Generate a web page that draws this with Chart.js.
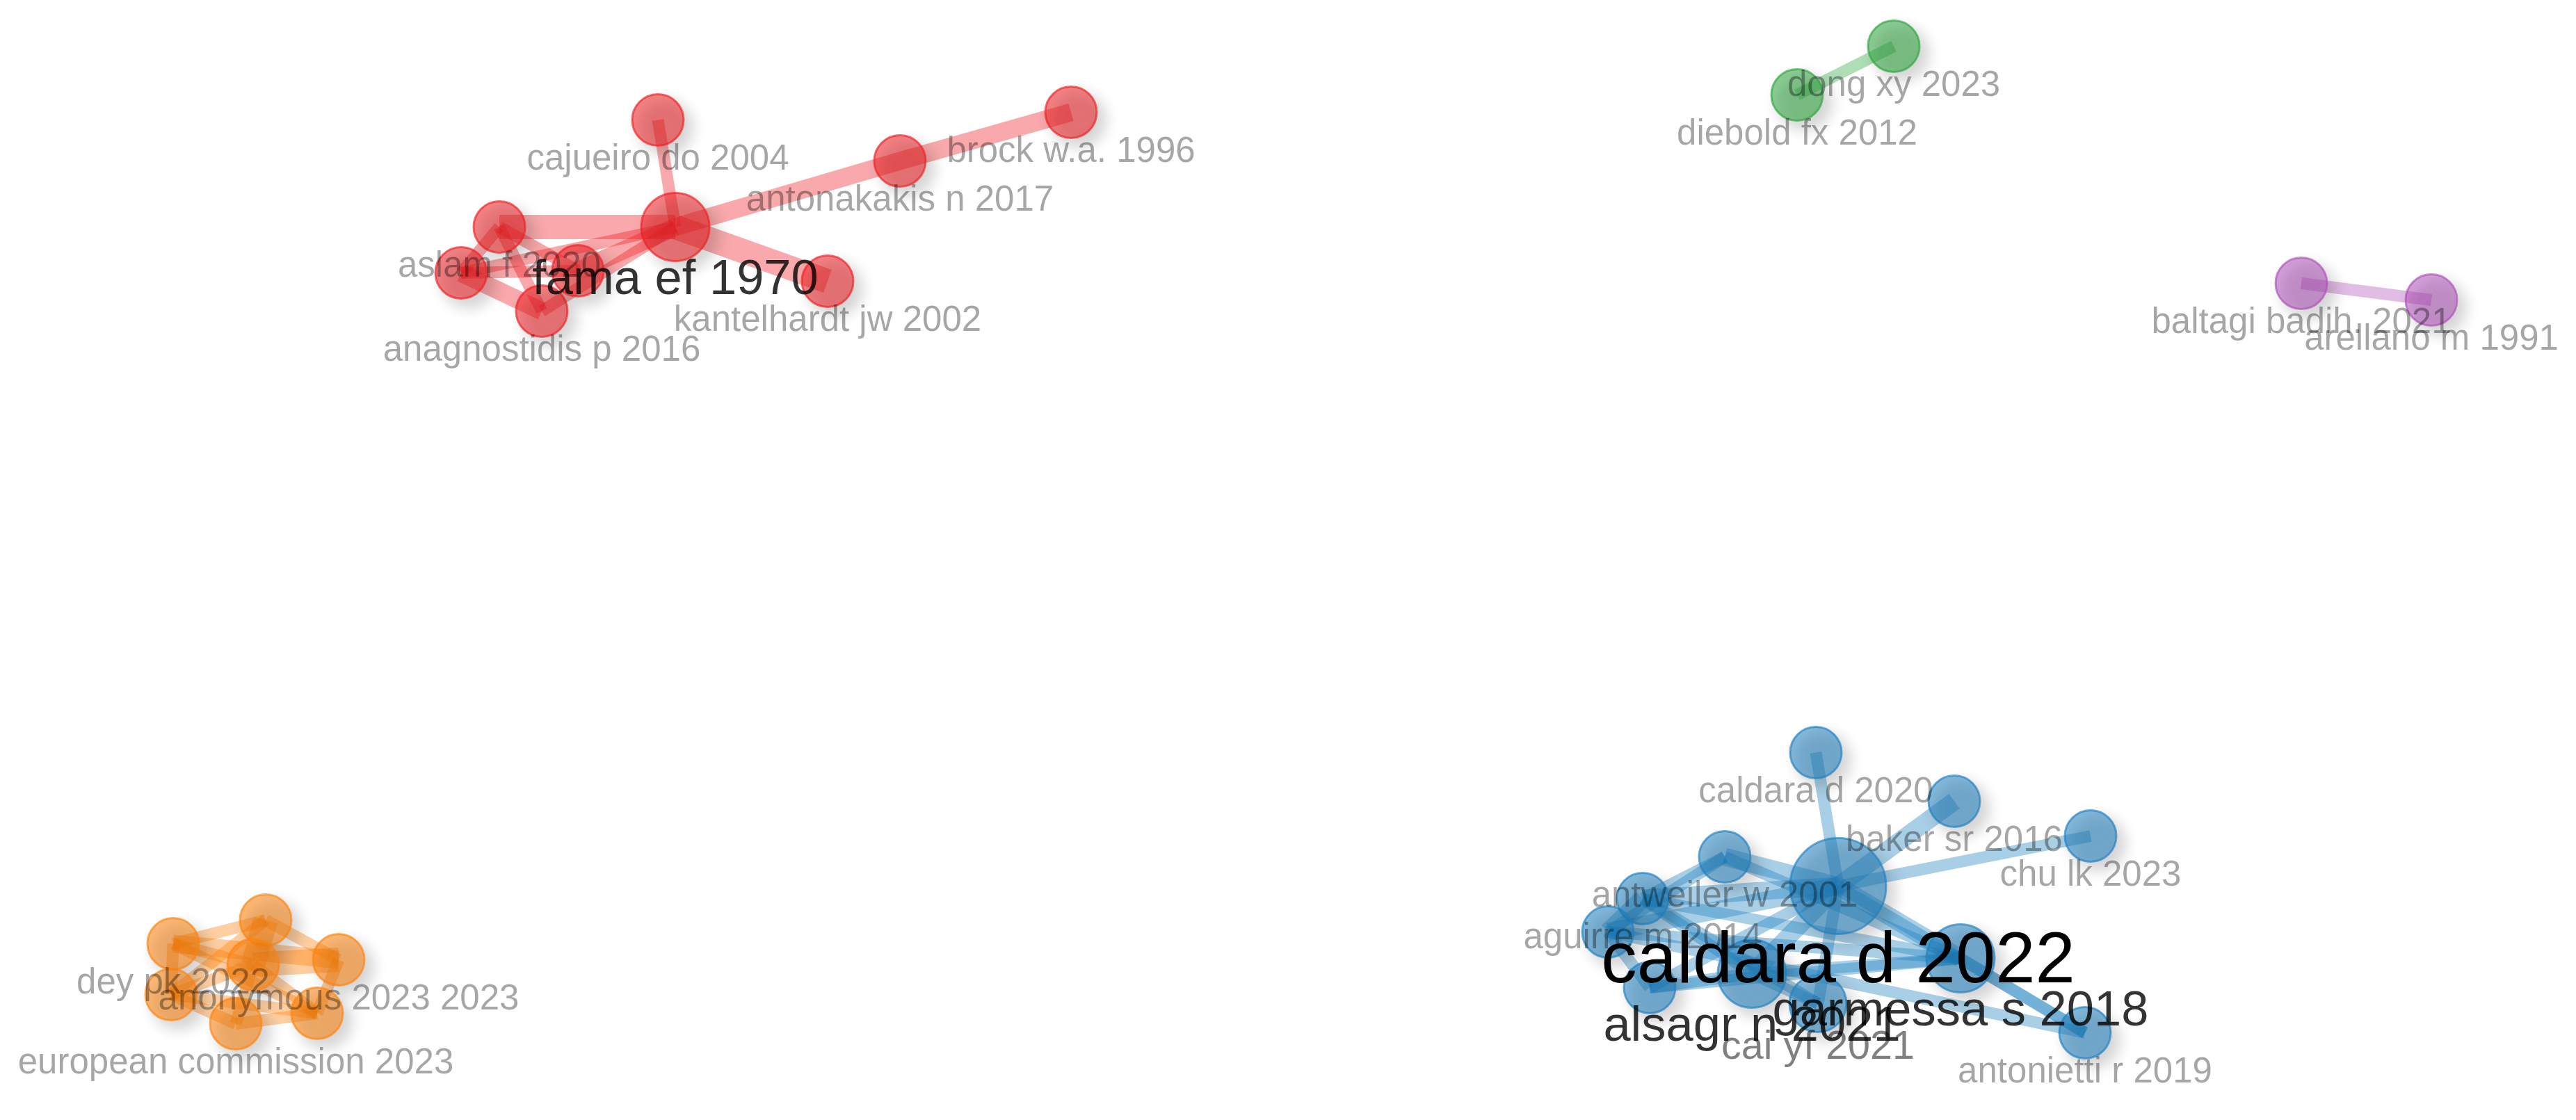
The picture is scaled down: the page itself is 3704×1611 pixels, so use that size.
<!DOCTYPE html>
<html>
<head>
<meta charset="utf-8">
<title>Co-citation network</title>
<script src="https://cdn.jsdelivr.net/npm/chart.js@4.4.1/dist/chart.umd.min.js"></script>
<style>
  html, body { margin: 0; padding: 0; background: #fff; }
  #wrap { width: 3704px; height: 1611px; position: relative; }
</style>
</head>
<body>
<div id="wrap"><canvas id="c-network"></canvas></div>
<script>
// node table (map coordinates)
const nodeLabels = [
  'fama ef 1970', 'cajueiro do 2004', 'antonakakis n 2017', 'brock w.a. 1996', 'kantelhardt jw 2002',
  'aslam f 2020', '', 'anagnostidis p 2016', '',
  'dong xy 2023', 'diebold fx 2012',
  'baltagi badih. 2021', 'arellano m 1991',
  'dey pk 2022', '', 'anonymous 2023 2023', '', '', '', 'european commission 2023',
  'caldara d 2022', 'caldara d 2020', 'baker sr 2016', 'chu lk 2023', 'antweiler w 2001',
  'aguirre m 2014', '', '', 'alsagr n 2021', 'garmessa s 2018', 'cai yf 2021', 'antonietti r 2019'
];
const nodeX = [
  -0.881, -0.906, -0.558, -0.312, -0.662, -1.134, -1.189, -1.073, -1.021,
  0.871, 0.732,
  1.457, 1.644,
  -1.603, -1.470, -1.365, -1.488, -1.606, -1.396, -1.513,
  0.791, 0.759, 0.958, 1.154, 0.628, 0.510, 0.460, 0.520, 0.667, 0.967, 0.762, 1.146
];
const nodeY = [
  0.479, 0.633, 0.574, 0.644, 0.401, 0.479, 0.413, 0.358, 0.416,
  0.739, 0.669,
  0.398, 0.374,
  -0.552, -0.518, -0.575, -0.582, -0.625, -0.652, -0.667,
  -0.469, -0.277, -0.347, -0.397, -0.427, -0.487, -0.535, -0.615, -0.595, -0.573, -0.638, -0.680
];
const nodeWeight = [
  5, 2, 2, 2, 2, 2, 2, 2, 2,
  2, 2,
  2, 2,
  2, 2, 2, 2, 2, 2, 2,
  10, 2, 2, 2, 2, 2, 2, 2, 5, 5, 3, 2
];
const nodeCluster = [
  0, 0, 0, 0, 0, 0, 0, 0, 0,
  1, 1,
  2, 2,
  3, 3, 3, 3, 3, 3, 3,
  4, 4, 4, 4, 4, 4, 4, 4, 4, 4, 4, 4
];

// links: from, to, strength
const edgeFrom = [
  0, 0, 2, 0, 0, 0, 0, 0, 5, 5, 6, 6, 5,
  9,
  11,
  13, 13, 13, 13, 14, 14, 15, 15, 16, 16, 16, 17, 18, 17, 13, 14,
  20, 20, 20, 20, 20, 20, 20, 20, 20, 20, 20, 24, 24, 25, 26, 25, 26, 25, 27, 28, 28, 29, 24, 27, 26, 25
];
const edgeTo = [
  1, 2, 3, 4, 5, 6, 7, 8, 6, 8, 7, 8, 7,
  10,
  12,
  14, 15, 16, 17, 16, 15, 16, 18, 17, 18, 19, 19, 19, 18, 18, 17,
  21, 22, 23, 24, 25, 26, 27, 28, 29, 30, 31, 25, 26, 26, 27, 28, 29, 29, 28, 30, 29, 31, 29, 29, 31, 30
];
const edgeStrength = [
  1, 2, 2, 3, 3, 1, 1, 2, 1, 1, 2, 1, 1,
  1,
  1,
  1, 2, 1, 1, 3, 1, 3, 1, 1, 1, 1, 1, 1, 1, 1, 1,
  1, 2, 1, 2, 2, 2, 1, 2, 2, 1, 1, 1, 1, 2, 1, 1, 1, 1, 1, 1, 1, 1, 1, 1, 1, 1
];

const clusterRGB = ['238,30,34', '44,165,60', '175,80,185', '255,130,10', '30,128,192'];

const radiusOf = w => 29 + 4 * w;
const fontOf = w => 38 + 6.5 * w;
const inkOf = w => Math.min(1, 0.05 + 0.15 * w);
const linkWidthOf = s => 8 + 9 * s;

function buildDatasets() {
  const sets = [];
  // nodes, one bubble set per cluster
  clusterRGB.forEach((rgb, c) => {
    const pts = [];
    nodeX.forEach((x, i) => {
      if (nodeCluster[i] === c) pts.push({ x: x, y: nodeY[i], r: radiusOf(nodeWeight[i]) });
    });
    sets.push({
      type: 'bubble',
      data: pts,
      order: 0,
      backgroundColor: `rgba(${rgb},0.55)`,
      borderColor: `rgba(${rgb},0.65)`,
      borderWidth: 3,
      hoverRadius: 0
    });
  });
  // links
  edgeFrom.forEach((a, k) => {
    const b = edgeTo[k];
    const rgb = clusterRGB[nodeCluster[a]];
    sets.push({
      type: 'line',
      data: [{ x: nodeX[a], y: nodeY[a] }, { x: nodeX[b], y: nodeY[b] }],
      order: 1,
      borderColor: `rgba(${rgb},0.38)`,
      borderWidth: linkWidthOf(edgeStrength[k]),
      borderCapStyle: 'butt',
      pointRadius: 0,
      fill: false,
      tension: 0
    });
  });
  return sets;
}

const nodeShadow = {
  id: 'nodeShadow',
  beforeDatasetDraw(chart, args) {
    if (args.meta.type !== 'bubble') return;
    const ctx = chart.ctx;
    ctx.save();
    ctx.shadowColor = 'rgba(0,0,0,0.32)';
    ctx.shadowBlur = 22;
    ctx.shadowOffsetX = 11;
    ctx.shadowOffsetY = 11;
  },
  afterDatasetDraw(chart, args) {
    if (args.meta.type !== 'bubble') return;
    chart.ctx.restore();
  }
};

const nodeLabelsPlugin = {
  id: 'nodeLabels',
  afterDatasetsDraw(chart) {
    const ctx = chart.ctx;
    const xs = chart.scales.x, ys = chart.scales.y;
    const order = nodeLabels.map((_, i) => i).sort((a, b) => nodeWeight[a] - nodeWeight[b]);
    ctx.save();
    ctx.textAlign = 'center';
    ctx.textBaseline = 'middle';
    order.forEach(i => {
      if (!nodeLabels[i]) return;
      const w = nodeWeight[i];
      const f = fontOf(w);
      const px = xs.getPixelForValue(nodeX[i]);
      const py = ys.getPixelForValue(nodeY[i]) + radiusOf(w) + 0.4 * f;
      ctx.font = `${f}px "Liberation Sans", Arial, sans-serif`;
      ctx.fillStyle = `rgba(0,0,0,${inkOf(w)})`;
      ctx.fillText(nodeLabels[i], px, py);
    });
    ctx.restore();
  }
};

new Chart(document.getElementById('c-network'), {
  type: 'scatter',
  data: { datasets: buildDatasets() },
  options: {
    responsive: true,
    maintainAspectRatio: false,
    devicePixelRatio: 1,
    animation: false,
    events: [],
    layout: { padding: 0, autoPadding: false },
    scales: {
      x: { type: 'linear', min: -1.852, max: 1.852, display: false },
      y: { type: 'linear', min: -0.8055, max: 0.8055, display: false }
    },
    plugins: { legend: { display: false }, tooltip: { enabled: false } }
  },
  plugins: [nodeShadow, nodeLabelsPlugin]
});
</script>
</body>
</html>
